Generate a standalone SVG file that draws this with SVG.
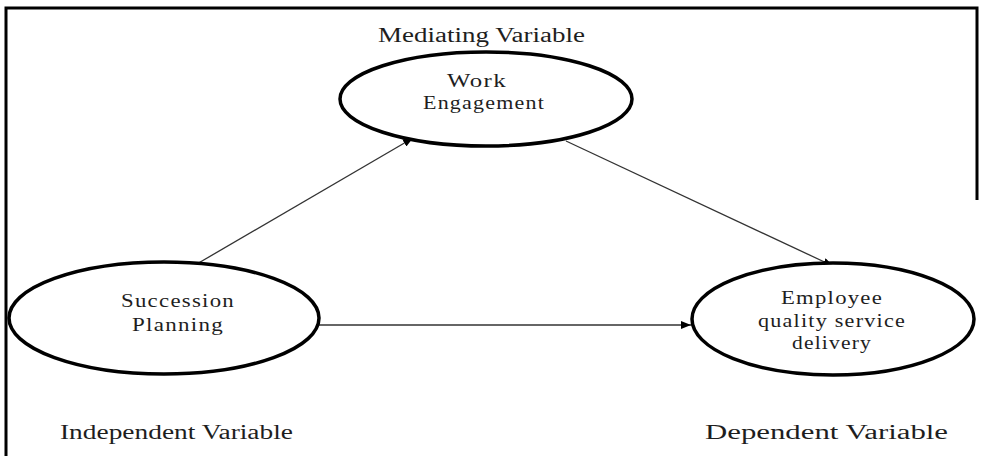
<svg xmlns="http://www.w3.org/2000/svg" width="982" height="456" viewBox="0 0 982 456">
<defs>
<marker id="ah" viewBox="0 0 10 8" refX="10" refY="4" markerWidth="10" markerHeight="8" markerUnits="userSpaceOnUse" orient="auto">
<path d="M0,0 L10,4 L0,8 Z" fill="#000"/>
</marker>
<style>
.node{fill:#fff;stroke:#000;stroke-width:3.5}
.nt{font-family:"Liberation Serif","Times New Roman",serif;font-size:18px;fill:#1e1e1e;text-anchor:middle;letter-spacing:1px}
.lab{font-family:"Liberation Serif","Times New Roman",serif;font-size:20px;fill:#1e1e1e}
.edge{stroke:#333;stroke-width:1.3;fill:none;marker-end:url(#ah)}
.frame{stroke:#000;stroke-width:3;fill:none}
</style>
</defs>
<rect width="982" height="456" fill="#fff"/>
<path class="frame" d="M6,456 V8 H977 V200"/>
<g id="connectors">
<line class="edge" x1="190" y1="268" x2="413" y2="138"/>
<line class="edge" x1="566" y1="141" x2="833" y2="266"/>
<line class="edge" x1="319" y1="325" x2="691" y2="325"/>
</g>
<g id="work-engagement">
<ellipse class="node" cx="486" cy="99" rx="146" ry="47"/>
<text class="nt" x="477" y="87" textLength="60" lengthAdjust="spacingAndGlyphs">Work</text>
<text class="nt" x="484" y="109" textLength="122" lengthAdjust="spacingAndGlyphs">Engagement</text>
</g>
<g id="succession-planning">
<ellipse class="node" cx="164" cy="318" rx="155" ry="56"/>
<text class="nt" x="178" y="307" textLength="114" lengthAdjust="spacingAndGlyphs">Succession</text>
<text class="nt" x="178" y="331" textLength="92" lengthAdjust="spacingAndGlyphs">Planning</text>
</g>
<g id="employee-quality">
<ellipse class="node" cx="833" cy="319" rx="141" ry="56"/>
<text class="nt" x="832" y="304" textLength="102" lengthAdjust="spacingAndGlyphs">Employee</text>
<text class="nt" x="832" y="327" textLength="148" lengthAdjust="spacingAndGlyphs">quality service</text>
<text class="nt" x="832" y="349" textLength="80" lengthAdjust="spacingAndGlyphs">delivery</text>
</g>
<g id="labels">
<text class="lab" x="378" y="42" textLength="207" lengthAdjust="spacingAndGlyphs">Mediating Variable</text>
<text class="lab" x="60" y="439" textLength="233" lengthAdjust="spacingAndGlyphs">Independent Variable</text>
<text class="lab" x="705" y="439" textLength="243" lengthAdjust="spacingAndGlyphs">Dependent Variable</text>
</g>
</svg>
